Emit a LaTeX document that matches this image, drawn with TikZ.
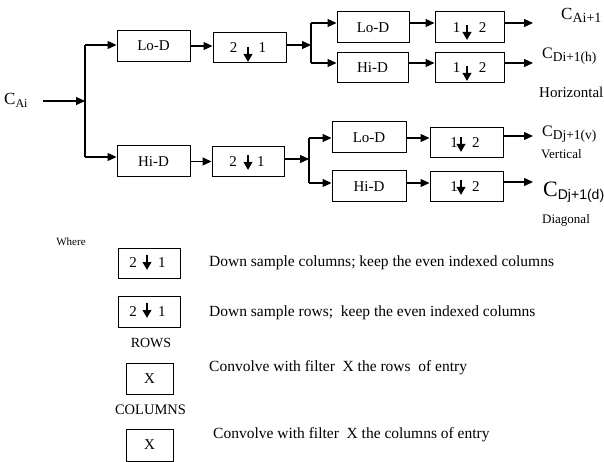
\documentclass[tikz,border=0pt]{standalone}
\usepackage{fontspec}
\setmainfont{Liberation Serif}
\newfontfamily\subsans{Liberation Sans}
\usetikzlibrary{arrows.meta,calc}
\newcommand{\mycsub}[3]{{\fontsize{#1}{#1}\selectfont C}{\fontsize{#2}{#2}\selectfont\raisebox{-3pt}{#3}}}
\begin{document}
\begin{tikzpicture}[x=1pt,y=-1pt,
  blk/.style={draw,line width=1pt,inner sep=0pt,font=\fontsize{15}{18}\selectfont},
  arr/.style={line width=1.2pt,-{Triangle[length=9pt,width=8pt]}},
  ln/.style={line width=1.2pt},
  dn/.style={line width=2pt,-{Triangle[length=8pt,width=8.5pt]}},
  lbl/.style={inner sep=0pt,anchor=west},
  desc/.style={inner sep=0pt,anchor=west,font=\fontsize{15.5}{18}\selectfont}]
\useasboundingbox (0,0) rectangle (604,462);

% ---- input
\node[lbl] (cai) at (4,100) {\mycsub{17}{12}{Ai}};
\coordinate (s0) at (43,101);
\coordinate (j1) at (85,101);
\coordinate (b1t) at (85,45);
\coordinate (b1b) at (85,157);

% ---- first stage
\node[blk,minimum width=73pt,minimum height=31pt] (lod1) at (153.5,46) {Lo-D};
\node[blk,minimum width=73pt,minimum height=31pt] (hid1) at (153.5,161.5) {Hi-D};
\node[blk,minimum width=73pt,minimum height=30pt] (ds1) at (249.5,48) {\hspace{-3pt}2\hspace{21.5pt}1};
\node[blk,minimum width=72pt,minimum height=30pt] (ds2) at (248,162) {\hspace{-2pt}2\hspace{20.5pt}1};

% ---- second stage (upper)
\coordinate (j2) at (311,45);
\coordinate (b2t) at (311,23);
\coordinate (b2b) at (311,63);
\node[blk,minimum width=72pt,minimum height=31pt] (lod2) at (373,27.5) {Lo-D};
\node[blk,minimum width=71pt,minimum height=30pt] (hid2) at (372.5,68) {Hi-D};
\node[blk,minimum width=69pt,minimum height=31pt] (ds3) at (469.5,27.5) {1\hspace{18.5pt}2};
\node[blk,minimum width=69pt,minimum height=30pt] (ds4) at (469.5,68) {1\hspace{18.5pt}2};

% ---- second stage (lower)
\coordinate (j3) at (309,159);
\coordinate (b3t) at (309,138);
\coordinate (b3b) at (309,183);
\node[blk,minimum width=74pt,minimum height=31pt] (lod3) at (369,137.5) {Lo-D};
\node[blk,minimum width=74pt,minimum height=31pt] (hid3) at (369,186.5) {Hi-D};
\node[blk,minimum width=73pt,minimum height=30pt] (ds5) at (466.5,143) {\hspace{-3pt}1\hspace{14.5pt}2};
\node[blk,minimum width=73pt,minimum height=30pt] (ds6) at (466.5,187) {\hspace{-3pt}1\hspace{14.5pt}2};

% ---- outputs
\coordinate (e1) at (533,23);
\coordinate (e2) at (533,63);
\coordinate (e3) at (533,136);
\coordinate (e4) at (533,182);
\node[lbl] (o1) at (561,15) {\mycsub{17}{14}{Ai+1}};
\node[lbl] (o2) at (542,56) {\mycsub{16}{13.5}{Di+1(h)}};
\node[lbl,font=\fontsize{15}{18}\selectfont] (hz) at (539,92) {Horizontal};
\node[lbl] (o3) at (542,134) {\mycsub{16}{13.5}{Dj+1(v)}};
\node[lbl,font=\fontsize{13}{15}\selectfont] (vt) at (541,154) {Vertical};
\node[lbl] (o4) at (543,192) {{\fontsize{22}{22}\selectfont C}{\fontsize{14}{14}\subsans\raisebox{-3pt}{Dj+1(d)}}};
\node[lbl,font=\fontsize{13}{15}\selectfont] (dg) at (542,220) {Diagonal};

% ---- connectors
\draw[arr] (s0) -- (j1);
\draw[ln] (b1t) -- (b1b);
\draw[arr] (b1t) -- (b1t -| lod1.west);
\draw[arr] (b1b) -- (b1b -| hid1.west);
\draw[arr] (lod1) -- (lod1 -| ds1.west);
\draw[arr] (hid1) -- (hid1 -| ds2.west);
\draw[arr] (ds1.east |- j2) -- (j2);
\draw[arr] (ds2.east |- j3) -- (j3);
\draw[ln] (b2t) -- (b2b);
\draw[arr] (b2t) -- (b2t -| lod2.west);
\draw[arr] (b2b) -- (b2b -| hid2.west);
\draw[ln] (b3t) -- (b3b);
\draw[arr] (b3t) -- (b3t -| lod3.west);
\draw[arr] (b3b) -- (b3b -| hid3.west);
\draw[arr] (lod2.east |- b2t) -- (ds3.west |- b2t);
\draw[arr] (hid2.east |- b2b) -- (ds4.west |- b2b);
\draw[arr] (lod3.east |- b3t) -- (ds5.west |- b3t);
\draw[arr] (hid3.east |- b3b) -- (ds6.west |- b3b);
\draw[arr] (ds3.east |- e1) -- (e1);
\draw[arr] (ds4.east |- e2) -- (e2);
\draw[arr] (ds5.east |- e3) -- (e3);
\draw[arr] (ds6.east |- e4) -- (e4);

% ---- down-sampling arrows
\draw[dn] ($(ds1.center)+(-1.5,-1)$) -- ++(0,15);
\draw[dn] ($(ds2.center)+(0,-7)$) -- ++(0,15);
\draw[dn] ($(ds3.center)+(-2.5,-2.5)$) -- ++(0,15);
\draw[dn] ($(ds4.center)+(-2.5,-2)$) -- ++(0,15);
\draw[dn] ($(ds5.center)+(-5.5,-6)$) -- ++(0,15);
\draw[dn] ($(ds6.center)+(-5.5,-7)$) -- ++(0,15);

% ---- legend
\node[inner sep=0pt,font=\fontsize{11}{12}\selectfont] (where) at (71,242) {Where};
\node[blk,minimum width=62pt,minimum height=30pt] (lg1) at (149,263) {\raisebox{-4pt}{\hspace{-3pt}2\hspace{21.5pt}1}};
\node[blk,minimum width=62pt,minimum height=31pt] (lg2) at (149,311.5) {\raisebox{-4pt}{\hspace{-3pt}2\hspace{21.5pt}1}};
\draw[dn] ($(lg1.center)+(-2,-8)$) -- ++(0,15);
\draw[dn] ($(lg2.center)+(-2,-8.5)$) -- ++(0,15);
\node[inner sep=0pt,font=\fontsize{14}{16}\selectfont] (rows) at (151,343) {ROWS};
\node[blk,minimum width=47pt,minimum height=31pt] (lg3) at (149.5,378.5) {X};
\node[inner sep=0pt,font=\fontsize{14.5}{16}\selectfont] (cols) at (150.5,410) {COLUMNS};
\node[blk,minimum width=47pt,minimum height=32pt] (lg4) at (149.5,445) {X};
\node[desc] (t1) at (209,263) {Down sample columns; keep the even indexed columns};
\node[desc] (t2) at (209,313) {Down sample rows;\ \ keep the even indexed columns};
\node[desc] (t3) at (209,368) {Convolve with filter\ \ X the rows\ \ of entry};
\node[desc] (t4) at (213,435) {Convolve with filter\ \ X the columns of entry};
\end{tikzpicture}
\end{document}
